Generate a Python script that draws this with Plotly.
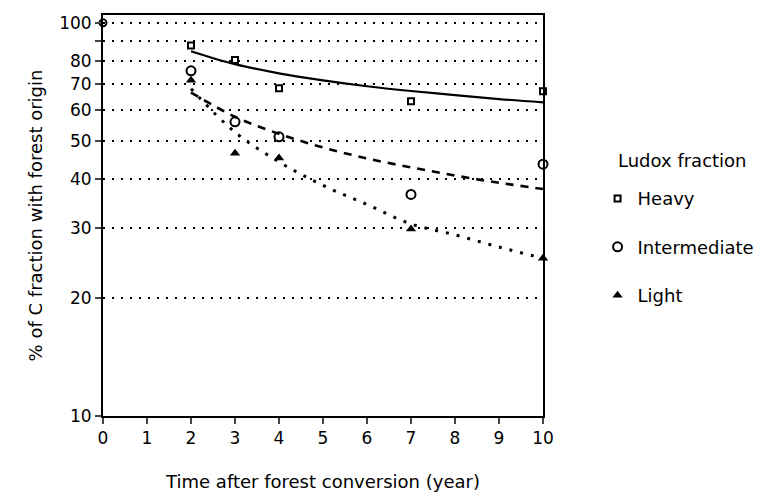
import plotly.graph_objects as go

years = [2, 3, 4, 7, 10]
heavy = [87.6, 80.4, 68.2, 63.2, 67.0]
intermediate = [75.5, 56.0, 51.3, 36.6, 43.7]
light = [71.5, 46.6, 45.3, 29.9, 25.2]
origin_year = [0]
origin_value = [100]

# Fitted curves
curve_years = [2, 3, 4, 5, 6, 7, 8, 9, 10]
heavy_curve = [84.7, 78.5, 74.4, 71.4, 69.0, 67.1, 65.5, 64.0, 62.8]
inter_curve = [66.5, 57.7, 52.2, 48.2, 45.2, 42.9, 40.9, 39.2, 37.8]
light_curve = [68.0, 52.7, 44.3, 38.6, 34.5, 30.8, 28.9, 26.9, 25.2]

x_ticks = list(range(0, 11))
y_tickvals = [10, 20, 30, 40, 50, 60, 70, 80, 90, 100]
y_ticktext = ["10", "20", "30", "40", "50", "60", "70", "80", "", "100"]

FONT = "DejaVu Sans, Liberation Sans, Arial, sans-serif"

fig = go.Figure()

fig.add_trace(go.Scatter(x=curve_years, y=heavy_curve, mode="lines", line=dict(color="black", width=2.2, shape="spline"), showlegend=False, hoverinfo="skip"))
fig.add_trace(go.Scatter(x=curve_years, y=inter_curve, mode="lines", line=dict(color="black", width=2.6, dash="8px,7px", shape="spline"), showlegend=False, hoverinfo="skip"))
fig.add_trace(go.Scatter(x=curve_years, y=light_curve, mode="lines", line=dict(color="black", width=3, dash="3px,8px", shape="spline"), showlegend=False, hoverinfo="skip"))

fig.add_trace(go.Scatter(x=origin_year, y=origin_value, mode="markers", marker=dict(symbol="circle-open", size=7, color="black", line=dict(width=2)), showlegend=False, cliponaxis=False))

fig.add_trace(go.Scatter(x=years, y=heavy, mode="markers", name="Heavy", legendgroup="h",
                         marker=dict(symbol="square-open", size=6, color="black", line=dict(width=2)), cliponaxis=False))
fig.add_trace(go.Scatter(x=years, y=intermediate, mode="markers", name="Intermediate", legendgroup="i",
                         marker=dict(symbol="circle-open", size=9, color="black", line=dict(width=2)), cliponaxis=False))
fig.add_trace(go.Scatter(x=years, y=light, mode="markers", name="Light", legendgroup="l",
                         marker=dict(symbol="triangle-up", size=9, color="black"), cliponaxis=False))

fig.update_layout(
    width=772, height=501,
    margin=dict(l=103, r=224, t=15, b=79),
    paper_bgcolor="white", plot_bgcolor="white",
    font=dict(family=FONT, size=17, color="black"),
    showlegend=True,
    legend=dict(x=1.124, xanchor="left", y=0.588, yanchor="top", tracegroupgap=22,
                font=dict(size=18), bgcolor="rgba(0,0,0,0)", itemwidth=30),
    annotations=[dict(text="Ludox fraction", xref="paper", yref="paper", x=1.166, y=0.636,
                      xanchor="left", yanchor="middle", showarrow=False, font=dict(size=18))],
)

fig.update_xaxes(range=[0, 10], tickvals=x_ticks, ticks="outside", ticklen=6, tickwidth=1.5,
                 showline=True, linecolor="black", linewidth=2, mirror=True, showgrid=False, zeroline=False,
                 title=dict(text="Time after forest conversion (year)", standoff=28, font=dict(size=18)),
                 tickfont=dict(size=17))
fig.update_yaxes(type="log", range=[1, 2.02], tickvals=y_tickvals, ticktext=y_ticktext,
                 ticks="outside", ticklen=6, tickwidth=1.5,
                 showline=True, linecolor="black", linewidth=2, mirror=True,
                 showgrid=True, gridcolor="black", gridwidth=1.6, griddash="2px,7px", zeroline=False,
                 title=dict(text="% of C fraction with forest origin", standoff=12, font=dict(size=18)),
                 tickfont=dict(size=17))

fig.write_html("out.html")
